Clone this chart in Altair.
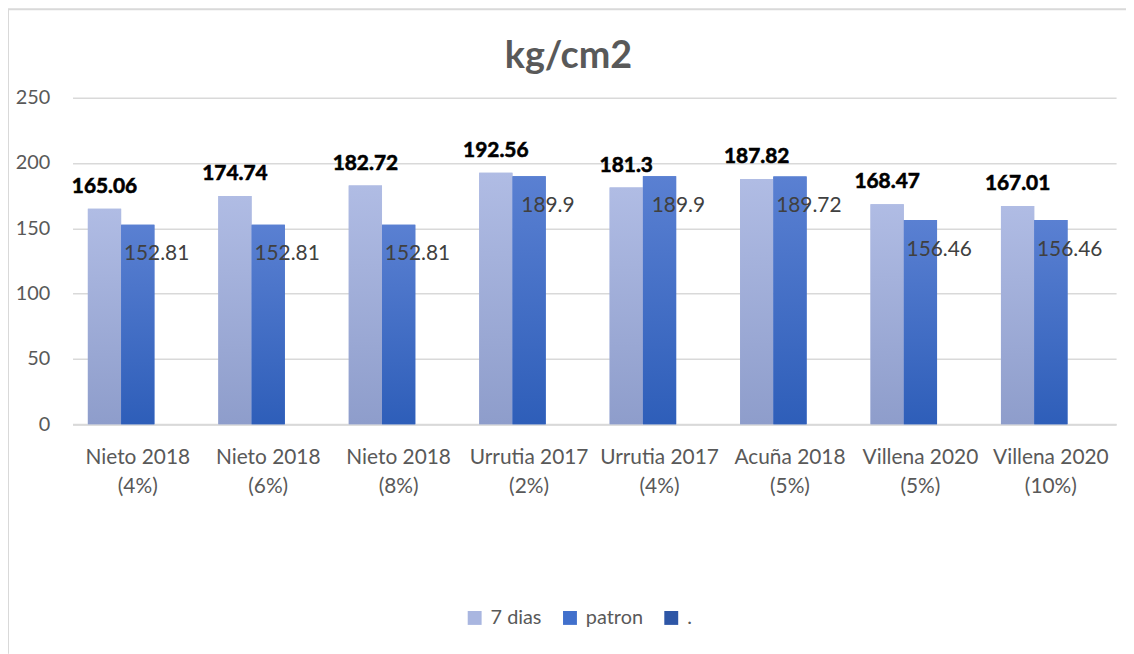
import altair as alt
import pandas as pd

categories = ["Nieto 2018 (4%)", "Nieto 2018 (6%)", "Nieto 2018 (8%)", "Urrutia 2017 (2%)",
              "Urrutia 2017 (4%)", "Acuña 2018 (5%)", "Villena 2020 (5%)", "Villena 2020 (10%)"]
dias7 = [165.06, 174.74, 182.72, 192.56, 181.3, 187.82, 168.47, 167.01]
patron = [152.81, 152.81, 152.81, 189.9, 189.9, 189.72, 156.46, 156.46]
series_names = ["7 dias", "patron", "."]
y_ticks = [0, 50, 100, 150, 200, 250]

rows = []
for c, a, b in zip(categories, dias7, patron):
    rows.append({"cat": c, "series": "7 dias", "value": a})
    rows.append({"cat": c, "series": "patron", "value": b})
df = pd.DataFrame(rows)

FONT = "Lato"
GRAY = "#595959"
W, H = 1051, 329

x_enc = alt.X("cat:N", sort=categories,
              scale=alt.Scale(paddingInner=0.235, paddingOuter=0.1175),
              axis=alt.Axis(title=None, labelAngle=0, ticks=False, domain=True, grid=False,
                            domainColor="#d9d9d9", domainWidth=2, labelFontSize=21,
                            labelColor=GRAY, labelFont=FONT, labelPadding=22,
                            labelLineHeight=30, labelBaseline="top",
                            labelExpr="[slice(datum.label,0,indexof(datum.label,' (')), slice(datum.label,indexof(datum.label,' (')+1)]"))
xoff = alt.XOffset("series:N", scale=alt.Scale(domain=series_names, paddingInner=0, paddingOuter=0))
y_enc = alt.Y("value:Q", scale=alt.Scale(domain=[0, 250], nice=False),
              axis=alt.Axis(title=None, values=y_ticks, ticks=False, domain=False, grid=True,
                            gridColor="#d9d9d9", gridWidth=1.5, labelFontSize=20,
                            labelColor=GRAY, labelFont=FONT, labelPadding=23))

base = alt.Chart(df)

legend_bars = base.mark_bar().encode(
    x=x_enc, xOffset=xoff, y=y_enc,
    color=alt.Color("series:N",
                    scale=alt.Scale(domain=series_names, range=["#A9B6E0", "#4170CC", "#2E56A6"]),
                    legend=alt.Legend(title=None, orient="none", legendX=395, legendY=514,
                                      direction="horizontal", symbolType="square", symbolSize=196,
                                      symbolStrokeWidth=0, labelFontSize=20, labelColor=GRAY,
                                      labelFont=FONT, columnPadding=18, labelOffset=6, padding=0)),
)

grad7 = alt.Gradient(gradient="linear", x1=0, y1=0, x2=0, y2=1,
                     stops=[alt.GradientStop(color="#B0BCE4", offset=0),
                            alt.GradientStop(color="#8E9DCB", offset=1)])
gradp = alt.Gradient(gradient="linear", x1=0, y1=0, x2=0, y2=1,
                     stops=[alt.GradientStop(color="#5A80D2", offset=0),
                            alt.GradientStop(color="#2E5EB9", offset=1)])

bars7 = base.transform_filter(alt.datum.series == "7 dias").mark_bar(fill=grad7).encode(
    x=x_enc, xOffset=xoff, y=y_enc)
barsp = base.transform_filter(alt.datum.series == "patron").mark_bar(fill=gradp).encode(
    x=x_enc, xOffset=xoff, y=y_enc)

text7 = base.transform_filter(alt.datum.series == "7 dias").mark_text(
    font=FONT, fontSize=21, fontWeight="bold", color="#000000", baseline="alphabetic", dy=-16,
    stroke="#000000", strokeWidth=0.6
).encode(x=x_enc, xOffset=xoff, y=y_enc, text=alt.Text("value:Q"))

textp = base.transform_filter(alt.datum.series == "patron").mark_text(
    font=FONT, fontSize=21, color="#404040", baseline="alphabetic", dy=36, dx=19
).encode(x=x_enc, xOffset=xoff, y=y_enc, text=alt.Text("value:Q"))

frame_left = alt.Chart(pd.DataFrame({"a": [0]})).mark_rule(color="#d9d9d9", strokeWidth=2).encode(
    x=alt.value(-65), y=alt.value(-89), y2=alt.value(560))
frame_top = alt.Chart(pd.DataFrame({"a": [0]})).mark_rule(color="#d9d9d9", strokeWidth=2).encode(
    x=alt.value(-65), x2=alt.value(1061), y=alt.value(-89))

chart = alt.layer(legend_bars, bars7, barsp, text7, textp, frame_left, frame_top).properties(
    width=W, height=H,
    title=alt.TitleParams("kg/cm2", font=FONT, fontSize=38, fontWeight="bold", color=GRAY,
                          anchor="middle", frame="group", baseline="alphabetic", offset=0,
                          dx=-26, dy=98),
    autosize=alt.AutoSizeParams(type="none"),
    padding={"left": 65, "top": 88, "right": 10, "bottom": 230},
).configure_view(stroke=None)

chart.save("out.html", embed_options={"renderer": "svg", "actions": False})
